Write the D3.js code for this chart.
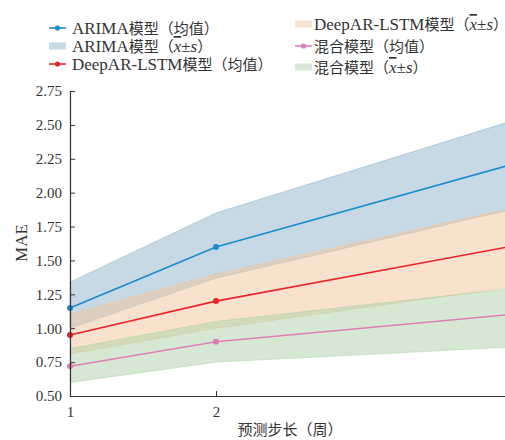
<!DOCTYPE html>
<html lang="zh">
<head>
<meta charset="UTF-8">
<script src="https://d3js.org/d3.v7.min.js"></script>
<style>
  html, body { margin: 0; padding: 0; background: #fff; overflow: hidden; }
  svg { display: block; font-family: "Liberation Serif", "Noto Sans CJK SC", serif; }
  .axis path, .axis line { stroke: #333; }
  .axis text { font-size: 15px; fill: #333; font-family: "Liberation Serif", serif; }
</style>
</head>
<body>
<svg id="chart" width="505" height="440"></svg>
<script>
// x = forecast horizon (weeks); last point sits just past the right edge
const steps = [1, 2, 4];
const xTicks = [1, 2];
const yTicks = [0.5, 0.75, 1.0, 1.25, 1.5, 1.75, 2.0, 2.25, 2.5, 2.75];

const arimaMean = [1.15, 1.60, 2.20];
const arimaUpper = [1.34, 1.85, 2.52];
const arimaLower = [1.00, 1.37, 1.87];

const deepMean = [0.95, 1.20, 1.60];
const deepUpper = [1.105, 1.40, 1.88];
const deepLower = [0.81, 1.00, 1.30];

const hybridMean = [0.72, 0.90, 1.10];
const hybridUpper = [0.85, 1.05, 1.29];
const hybridLower = [0.60, 0.75, 0.86];

const series = [
  { name: "ARIMA模型", mean: arimaMean, lo: arimaLower, hi: arimaUpper, line: "#1a8bcc", band: "#8db4cb" },
  { name: "DeepAR-LSTM模型", mean: deepMean, lo: deepLower, hi: deepUpper, line: "#e8262a", band: "#f4c69c" },
  { name: "混合模型", mean: hybridMean, lo: hybridLower, hi: hybridUpper, line: "#e07bb6", band: "#add2a8" }
];

const svg = d3.select("#chart");
const x = d3.scaleLinear().domain([1, 4]).range([70, 508]);
const y = d3.scaleLinear().domain([0.5, 2.75]).range([396, 91]);

// bands
const area = d3.area()
  .x((d, i) => x(steps[i]))
  .y0(d => y(d[0]))
  .y1(d => y(d[1]));

series.forEach(s => {
  const pts = steps.map((_, i) => [s.lo[i], s.hi[i]]);
  svg.append("path")
    .attr("d", area(pts))
    .attr("fill", s.band)
    .attr("fill-opacity", 0.5)
    .attr("stroke", s.band)
    .attr("stroke-opacity", 0.7)
    .attr("stroke-width", 0.8);
});

// mean lines
const line = d3.line().x((d, i) => x(steps[i])).y(d => y(d));
series.forEach(s => {
  svg.append("path")
    .attr("d", line(s.mean))
    .attr("fill", "none")
    .attr("stroke", s.line)
    .attr("stroke-width", 1.6);
  svg.selectAll(null).data(s.mean).enter().append("circle")
    .attr("cx", (d, i) => x(steps[i]))
    .attr("cy", d => y(d))
    .attr("r", 3)
    .attr("fill", s.line);
});

// axes
svg.append("g")
  .attr("class", "axis")
  .attr("transform", "translate(0,396)")
  .call(d3.axisBottom(x).tickValues(xTicks).tickFormat(d3.format("d")).tickSizeInner(-5).tickSizeOuter(0).tickPadding(10));

svg.append("g")
  .attr("class", "axis")
  .attr("transform", "translate(70,0)")
  .call(d3.axisLeft(y).tickValues(yTicks).tickFormat(d3.format(".2f")).tickSizeInner(-5).tickSizeOuter(0).tickPadding(8));

svg.selectAll(".axis .domain").attr("stroke-width", 1.2);

svg.append("text")
  .attr("transform", "translate(27,243) rotate(-90)")
  .attr("text-anchor", "middle")
  .attr("font-size", 17)
  .attr("fill", "#333")
  .text("MAE");

svg.append("text")
  .attr("x", 290).attr("y", 435)
  .attr("text-anchor", "middle")
  .attr("font-family", "Noto Sans CJK SC")
  .attr("font-size", 15)
  .attr("fill", "#333")
  .text("预测步长（周）");

// legend: latin runs a bit larger than CJK runs, like the original
function addRuns(t, str) {
  const runs = str.match(/[\u3000-\u9fff\uff00-\uffef]+|[^\u3000-\u9fff\uff00-\uffef]+/g);
  runs.forEach(r => {
    const cjk = /[\u3000-\u9fff\uff00-\uffef]/.test(r);
    t.append("tspan")
      .attr("font-family", cjk ? "Noto Sans CJK SC" : "Liberation Serif")
      .attr("font-size", cjk ? 15 : 17)
      .text(r);
  });
}

const legendItems = [
  { s: series[0], kind: "mean", x: 49, y: 28 },
  { s: series[0], kind: "band", x: 49, y: 46 },
  { s: series[1], kind: "mean", x: 49, y: 64 },
  { s: series[1], kind: "band", x: 295, y: 24 },
  { s: series[2], kind: "mean", x: 295, y: 46 },
  { s: series[2], kind: "band", x: 295, y: 67 }
];

legendItems.forEach(it => {
  const g = svg.append("g").attr("transform", `translate(${it.x},${it.y})`);
  if (it.kind === "mean") {
    g.append("line").attr("x1", 0).attr("x2", 17).attr("stroke", it.s.line).attr("stroke-width", 1.6);
    g.append("circle").attr("cx", 8.5).attr("r", 2.6).attr("fill", it.s.line);
  } else {
    g.append("rect").attr("x", 0).attr("y", -3.5).attr("width", 17).attr("height", 7)
      .attr("fill", it.s.band).attr("fill-opacity", 0.5);
  }
  const t = g.append("text")
    .attr("x", it.x < 100 ? 23 : 19).attr("y", 6)
    .attr("fill", "#333");
  if (it.kind === "mean") {
    addRuns(t, it.s.name + "（均值）");
  } else {
    addRuns(t, it.s.name + "（");
    t.append("tspan").attr("font-size", 17).attr("font-style", "italic").attr("text-decoration", "overline").text("x");
    t.append("tspan").attr("font-size", 17).text("±");
    t.append("tspan").attr("font-size", 17).attr("font-style", "italic").text("s");
    addRuns(t, "）");
  }
});
</script>
</body>
</html>
